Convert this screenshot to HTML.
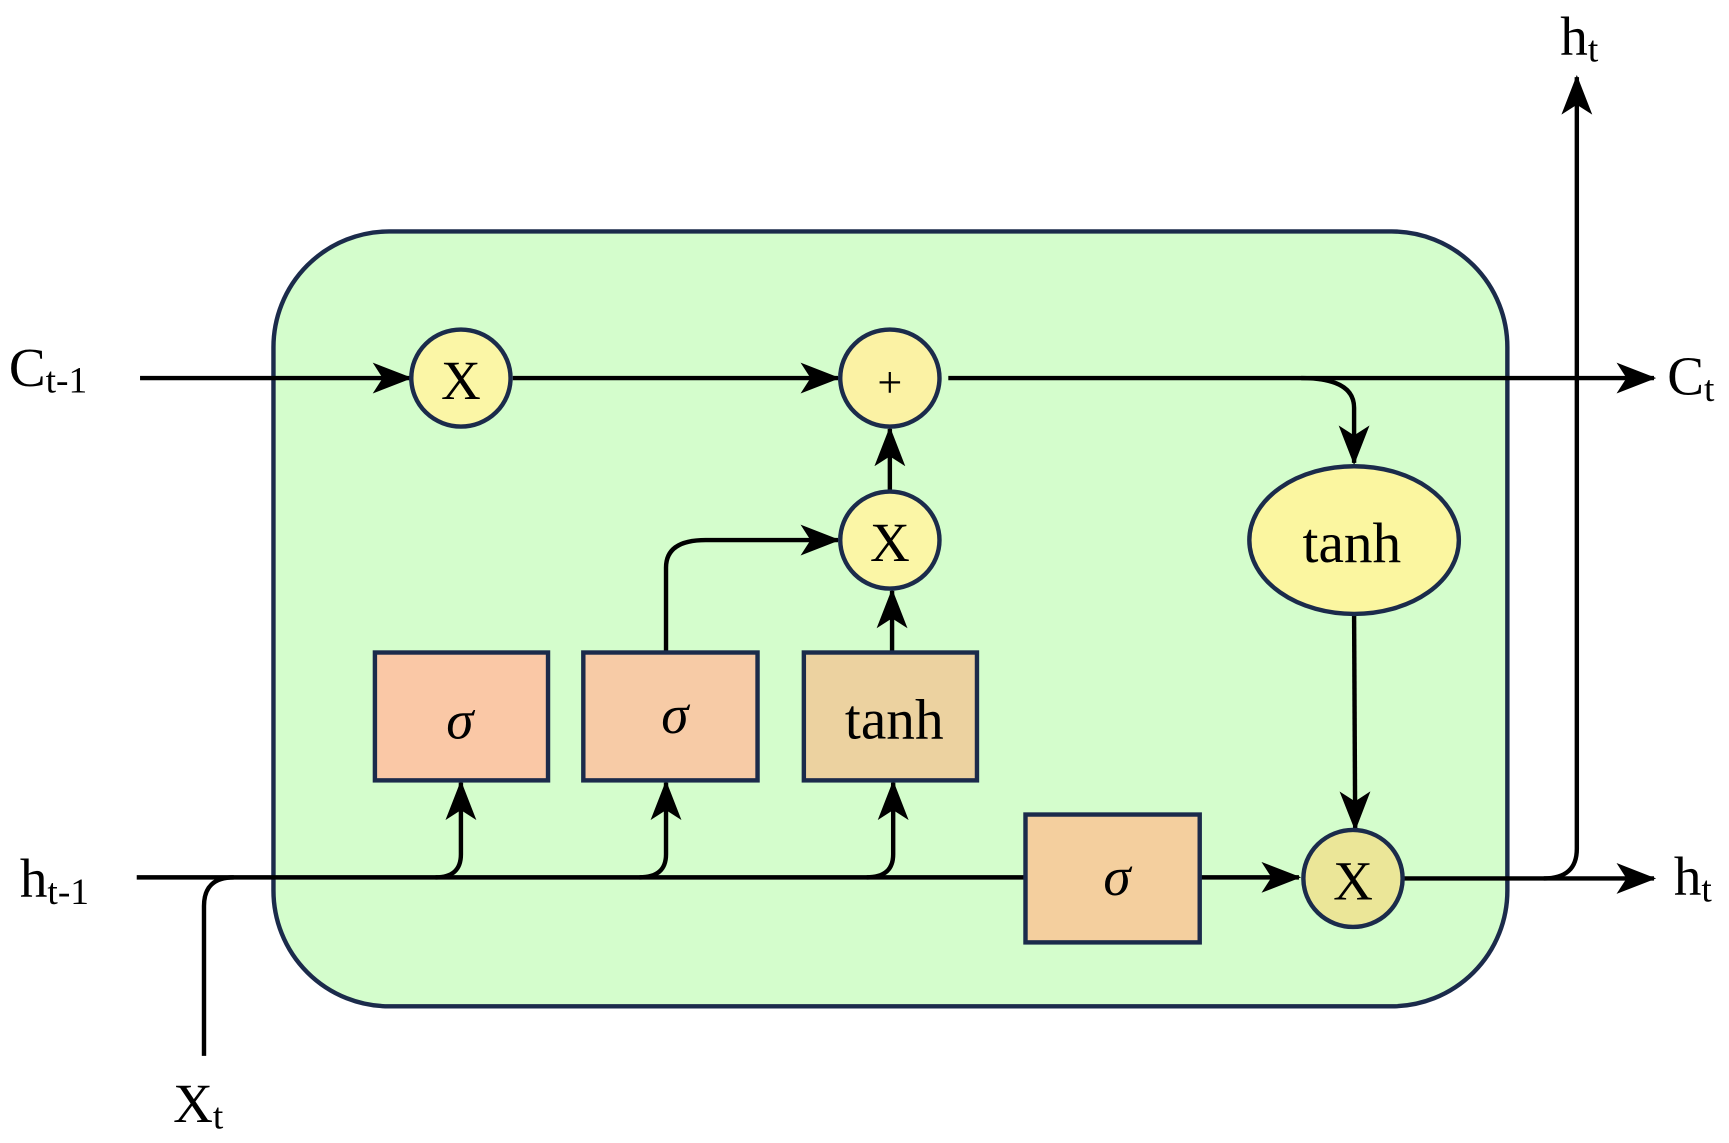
<!DOCTYPE html>
<html><head><meta charset="utf-8"><style>
html,body{margin:0;padding:0;background:#fff;width:1729px;height:1143px;overflow:hidden}
text{font-family:"Liberation Serif",serif;fill:#000}
</style></head><body>
<svg width="1729" height="1143" viewBox="0 0 1568 1037" preserveAspectRatio="none" xmlns="http://www.w3.org/2000/svg">
<defs>
<marker id="a" markerWidth="12" markerHeight="10" refX="11" refY="5" orient="auto" markerUnits="userSpaceOnUse" viewBox="0 0 12 10">
<path d="M0,0 L12,5 L0,10 L3,5 Z" fill="#000"/>
</marker>
<marker id="b" markerWidth="36" markerHeight="28" refX="34" refY="14" orient="auto" markerUnits="userSpaceOnUse" viewBox="0 0 36 28">
<path d="M0,0 L36,14 L0,28 L9,14 Z" fill="#000"/>
</marker>
</defs>
<rect x="248" y="210" width="1119" height="703" rx="105" ry="105" fill="#d4fdcc" stroke="#1b2b4b" stroke-width="4"/>
<g stroke="#000" stroke-width="4" fill="none">
<path d="M127,343 H372" marker-end="url(#b)"/>
<path d="M465,343 H760" marker-end="url(#b)"/>
<path d="M860,343 H1500" marker-end="url(#b)"/>
<path d="M1180,343 Q1228,343 1228,370 V420" marker-end="url(#b)"/>
<path d="M1228,557 L1229,752" marker-end="url(#b)"/>
<path d="M1272,797 H1500" marker-end="url(#b)"/>
<path d="M1400,797 Q1430,797 1430,770 V70" marker-end="url(#b)"/>
<path d="M807,445 V389" marker-end="url(#b)"/>
<path d="M604,592 V515 Q604,490 640,490 H760" marker-end="url(#b)"/>
<path d="M809,592 V536" marker-end="url(#b)"/>
<path d="M124,796 H930"/>
<path d="M395,796 Q418,796 418,775 V710" marker-end="url(#b)"/>
<path d="M580,796 Q604,796 604,775 V710" marker-end="url(#b)"/>
<path d="M786,796 Q810,796 810,775 V710" marker-end="url(#b)"/>
<path d="M1088,796 H1178" marker-end="url(#b)"/>
<path d="M185,958 V822 Q185,796 212,796"/>
</g>
<g stroke="#1b2b4b" stroke-width="4">
<ellipse cx="418" cy="343" rx="45" ry="44" fill="#fbf6a6"/>
<ellipse cx="807" cy="343" rx="45" ry="44" fill="#fbf2a4"/>
<ellipse cx="807" cy="490" rx="45" ry="44" fill="#fbf6a6"/>
<ellipse cx="1228" cy="490" rx="95" ry="67" fill="#fbf6a0"/>
<ellipse cx="1227" cy="797" rx="45" ry="44" fill="#ebe698"/>
<rect x="340" y="592" width="157" height="116" fill="#fac8a6"/>
<rect x="529" y="592" width="158" height="116" fill="#f7cba6"/>
<rect x="729" y="592" width="157" height="116" fill="#ecd2a0"/>
<rect x="930" y="739" width="158" height="116" fill="#f4cf9e"/>
</g>
<g font-size="50" text-anchor="middle">
<text x="418" y="362">X</text>
<text x="807" y="360" font-size="40">+</text>
<text x="807" y="509">X</text>
<text x="1227" y="816">X</text>
<text x="1226" y="510" font-size="52">tanh</text>
<text x="811" y="670" font-size="52">tanh</text>
<text x="417" y="670" font-style="italic">σ</text>
<text x="612" y="665" font-style="italic">σ</text>
<text x="1013" y="812" font-style="italic">σ</text>
</g>
<g font-size="50">
<text x="8" y="350">C<tspan font-size="34" dy="6">t-1</tspan></text>
<text x="18" y="814">h<tspan font-size="34" dy="6">t-1</tspan></text>
<text x="1512" y="358">C<tspan font-size="34" dy="6">t</tspan></text>
<text x="1518" y="812">h<tspan font-size="34" dy="6">t</tspan></text>
<text x="1415" y="50">h<tspan font-size="34" dy="6">t</tspan></text>
<text x="157" y="1018">X<tspan font-size="34" dy="6">t</tspan></text>
</g>
</svg>
</body></html>
